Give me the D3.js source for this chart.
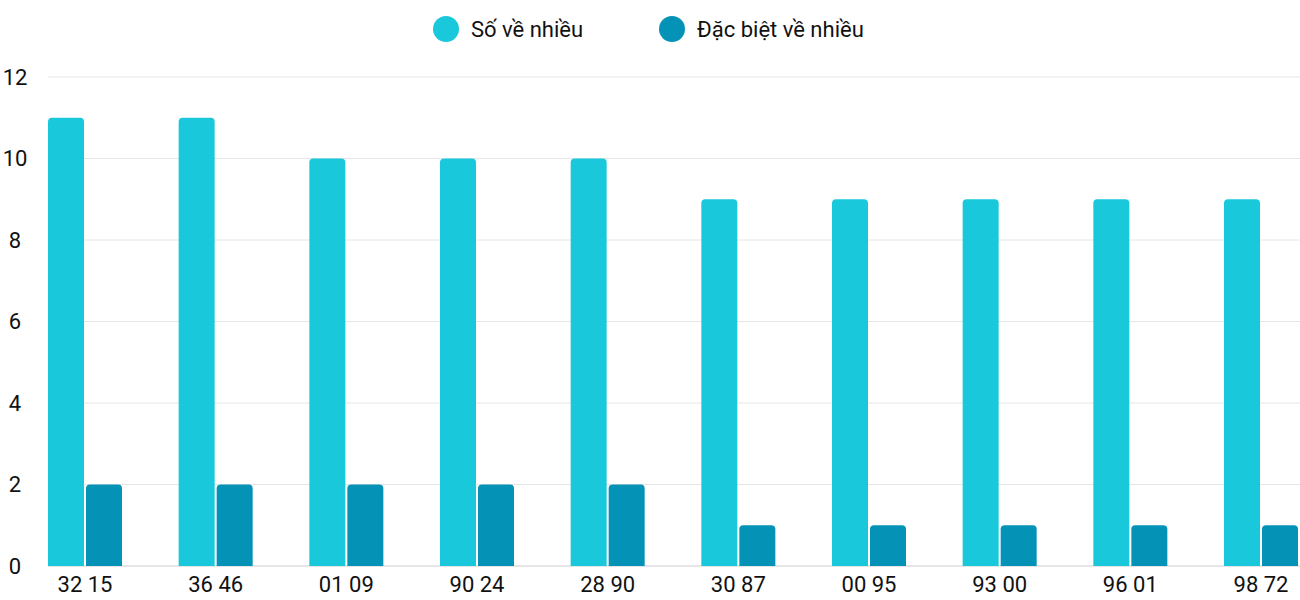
<!DOCTYPE html>
<html><head><meta charset="utf-8">
<script src="https://cdn.jsdelivr.net/npm/d3@7"></script>
<style>body{margin:0;background:#fff}svg{font-family:Roboto,sans-serif}</style>
</head><body><svg id="c" width="1300" height="600"></svg>
<script>
const categories = ["32 15","36 46","01 09","90 24","28 90","30 87","00 95","93 00","96 01","98 72"];
const seriesNames = ["Số về nhiều","Đặc biệt về nhiều"];
const seriesMain = [11,11,10,10,10,9,9,9,9,9];
const seriesSpecial = [2,2,2,2,2,1,1,1,1,1];
const yTicks = [0,2,4,6,8,10,12];
const colors = ["#1AC8DB","#0493B7"];

const svg = d3.select("#c");
const y = d3.scaleLinear().domain([0,12]).range([566,77]);
const x = d3.scalePoint().domain(categories).range([85,1261]);
const bw = 36, gap = 2;

svg.append("g").selectAll("line").data(yTicks).join("line")
  .attr("x1",48).attr("x2",1300).attr("y1",d=>y(d)).attr("y2",d=>y(d))
  .attr("stroke",d=>d===0?"#ccc":"#e6e6e6").attr("stroke-width",1);
svg.append("g").selectAll("text").data(yTicks).join("text")
  .attr("x",15).attr("y",d=>y(d)).attr("dy","0.36em").attr("text-anchor","middle")
  .attr("font-size",22).attr("fill","#111").text(d=>d);

function barPath(x0,y0,w,h,r){
  r=Math.min(r,h);
  return `M${x0},${y0+h}V${y0+r}Q${x0},${y0} ${x0+r},${y0}H${x0+w-r}Q${x0+w},${y0} ${x0+w},${y0+r}V${y0+h}Z`;
}
[seriesMain,seriesSpecial].forEach((s,si)=>{
  svg.append("g").selectAll("path").data(categories).join("path")
    .attr("fill",colors[si])
    .attr("d",(c,i)=>{const cx=x(c);const x0=si===0?cx-gap/2-bw:cx+gap/2;
      return barPath(x0,y(s[i]),bw,y(0)-y(s[i]),4);});
});
svg.append("g").selectAll("text").data(categories).join("text")
  .attr("x",d=>x(d)).attr("y",592).attr("text-anchor","middle")
  .attr("font-size",22).attr("fill","#111").text(d=>d);

const lg = svg.append("g");
[[446,seriesNames[0]],[672,seriesNames[1]]].forEach(([lx,t],i)=>{
  lg.append("circle").attr("cx",lx).attr("cy",29).attr("r",13).attr("fill",colors[i]);
  lg.append("text").attr("x",lx+25).attr("y",29).attr("dy","0.36em")
    .attr("font-size",22).attr("fill","#111").text(t);
});
</script></body></html>
